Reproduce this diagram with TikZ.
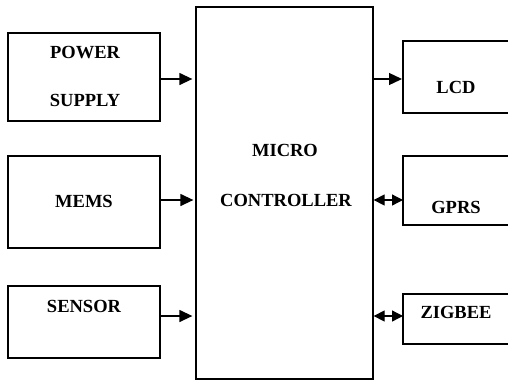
\documentclass[tikz,border=0pt]{standalone}
\usepackage{fontspec}
\setmainfont{Liberation Serif}
\usetikzlibrary{arrows.meta}
\begin{document}
\begin{tikzpicture}[x=1pt,y=-1pt,
  blk/.style={draw,line width=1.3pt},
  lbl/.style={font=\fontsize{18.5}{22}\selectfont\bfseries,inner sep=0pt},
  conn/.style={line width=1.3pt,-{Triangle[length=13pt,width=12pt]}},
  bconn/.style={line width=1.3pt,{Triangle[length=11pt,width=11pt]}-{Triangle[length=11pt,width=11pt]}}]
\useasboundingbox (0,0) rectangle (508,381);
% boxes
\node[blk,minimum width=152pt,minimum height=88pt] (ps) at (84,77) {};
\node[blk,minimum width=152pt,minimum height=92pt] (mems) at (84,202) {};
\node[blk,minimum width=152pt,minimum height=72pt] (sens) at (84,322) {};
\node[blk,minimum width=177pt,minimum height=372pt] (mc) at (284.5,193) {};
\draw[line width=1.3pt] (520,41) -- (403,41) -- (403,113) -- (520,113);
\draw[line width=1.3pt] (520,156) -- (403,156) -- (403,225) -- (520,225);
\draw[line width=1.3pt] (520,294) -- (403,294) -- (403,344) -- (520,344);
\coordinate (lcd) at (403,79);
\coordinate (gprs) at (403,200);
\coordinate (zig) at (403,316);
% labels
\node[lbl] (t1) at (85,53) {POWER};
\node[lbl] (t2) at (85,100) {SUPPLY};
\node[lbl] (t3) at (84,201) {MEMS};
\node[lbl] (t4) at (84,306) {SENSOR};
\node[lbl] (t5) at (285,150) {MICRO};
\node[lbl] (t6) at (286,200) {CONTROLLER};
\node[lbl] (t7) at (456,87) {LCD};
\node[lbl] (t8) at (456,207) {GPRS};
\node[lbl] (t9) at (456,312) {ZIGBEE};
% connectors
\draw[conn,shorten >=3pt] (ps.east |- 0,79) -- (mc.west |- 0,79);
\draw[conn,shorten >=2pt] (mems.east |- 0,200) -- (mc.west |- 0,200);
\draw[conn,shorten >=3pt] (sens.east |- 0,316) -- (mc.west |- 0,316);
\draw[conn,shorten >=1pt] (mc.east |- lcd) -- (lcd);
\draw[bconn] (mc.east |- gprs) -- (gprs);
\draw[bconn] (mc.east |- zig) -- (zig);
\end{tikzpicture}
\end{document}
